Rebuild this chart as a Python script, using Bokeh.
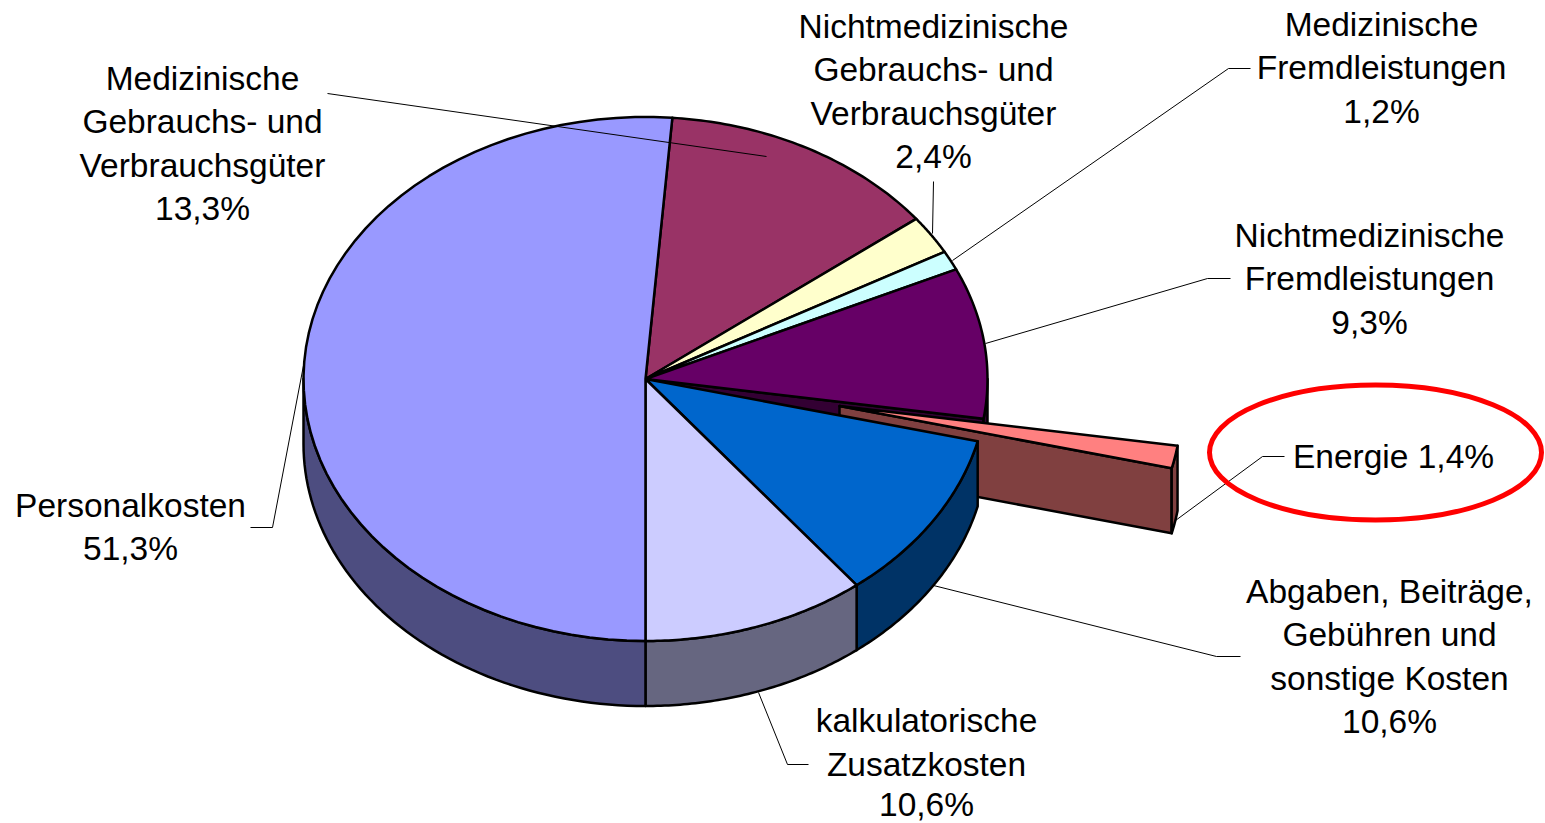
import numpy as np
from bokeh.core.properties import value
from bokeh.embed import file_html
from bokeh.models import Range1d
from bokeh.plotting import figure
from bokeh.resources import INLINE

# ---- data, clockwise from the top
categories = ["Medizinische Gebrauchs- und Verbrauchsgüter",
              "Nichtmedizinische Gebrauchs- und Verbrauchsgüter",
              "Medizinische Fremdleistungen",
              "Nichtmedizinische Fremdleistungen",
              "Energie",
              "Abgaben, Beiträge, Gebühren und sonstige Kosten",
              "kalkulatorische Zusatzkosten",
              "Personalkosten"]
shares = [13.3, 2.4, 1.2, 9.3, 1.4, 10.6, 10.6, 51.3]
top_colors = ["#993366", "#FFFFCC", "#CCFFFF", "#660066", "#FF8080", "#0066CC", "#CCCCFF", "#9999FF"]
side_colors = ["#4D1A33", "#808066", "#668080", "#330033", "#804040", "#003366", "#666680", "#4D4D80"]

label_lines = [["Medizinische", "Gebrauchs- und", "Verbrauchsgüter", "13,3%"],
               ["Nichtmedizinische", "Gebrauchs- und", "Verbrauchsgüter", "2,4%"],
               ["Medizinische", "Fremdleistungen", "1,2%"],
               ["Nichtmedizinische", "Fremdleistungen", "9,3%"],
               ["Energie 1,4%"],
               ["Abgaben, Beiträge,", "Gebühren und", "sonstige Kosten", "10,6%"],
               ["kalkulatorische", "Zusatzkosten", "10,6%"],
               ["Personalkosten", "51,3%"]]
label_x = [202, 933, 1381, 1369, 1393, 1389, 926, 130]
label_y = [[78, 121, 165, 208], [26, 69, 113, 156], [24, 67, 111], [235, 278, 322],
           [456], [591, 634, 678, 721], [720, 764, 803.5], [505, 548]]
leaders = [([327, 766], [93, 156]),
           ([933, 932], [181, 233]),
           ([1250, 1228, 952], [68, 68, 260]),
           ([1230, 1207, 985], [278, 278, 343]),
           ([1284, 1262, 1175], [456, 456, 520]),
           ([1240, 1216, 933], [656, 656, 585]),
           ([808, 787, 758], [764, 764, 692]),
           ([250, 272, 303], [527, 527, 365])]

# ---- layout
W, H = 1545, 823
CX, CY, RX, RY, DEPTH = 645, 378.5, 342, 262, 65
START = 4.5
EXPLODE_DX, EXPLODE_DY = 194, 27


def arc(a, b, cx=CX, cy=CY, n=60):
    t = np.radians(np.linspace(a, b, n))
    return cx + RX * np.sin(t), cy - RY * np.cos(t)


p = figure(width=W, height=H, output_backend="svg", toolbar_location=None,
           x_range=Range1d(0, W), y_range=Range1d(H, 0),
           x_axis_location=None, y_axis_location=None, min_border=0,
           outline_line_color=None, background_fill_color="white", border_fill_color="white")
p.grid.visible = False


def poly(xs, ys, color):
    p.patch(list(xs), list(ys), fill_color=color, line_color="black",
            line_width=2.5, line_join="round")


totals = np.cumsum([0] + shares) / sum(shares) * 360 + START
idx_purple, idx_energy, idx_blue, idx_kalk, idx_pers = 3, 4, 5, 6, 7


def rim(a, b, color, cx=CX, cy=CY):
    x, y = arc(a, b, cx, cy)
    poly(np.r_[x, x[::-1]], np.r_[y, y[::-1] + DEPTH], color)


def top(a, b, color, cx=CX, cy=CY):
    x, y = arc(a, b, cx, cy)
    poly(np.r_[cx, x], np.r_[cy, y], color)


# wall and rim of the slice that is exposed by the pulled-out piece
a, b = totals[idx_purple], totals[idx_purple + 1]
ex, ey = arc(b, b, n=1)
poly([CX, ex[0], ex[0], CX], [CY, ey[0], ey[0] + DEPTH, CY + DEPTH], side_colors[idx_purple])
rim(90, b, side_colors[idx_purple])

# pulled-out piece
a, b = totals[idx_energy], totals[idx_energy + 1]
ax, ay = CX + EXPLODE_DX, CY + EXPLODE_DY
lx, ly = arc(b, b, ax, ay, n=1)
poly([ax, lx[0], lx[0], ax], [ay, ly[0], ly[0] + DEPTH, ay + DEPTH], side_colors[idx_energy])
rim(a, b, side_colors[idx_energy], ax, ay)
top(a, b, top_colors[idx_energy], ax, ay)

# front rims
rim(totals[idx_blue], totals[idx_blue + 1], side_colors[idx_blue])
rim(totals[idx_kalk], totals[idx_kalk + 1], side_colors[idx_kalk])
rim(totals[idx_pers], 270, side_colors[idx_pers])

# tops
for i in range(len(shares)):
    if i != idx_energy:
        top(totals[i], totals[i + 1], top_colors[i])

# leaders
for xs, ys in leaders:
    p.line(xs, ys, line_color="black", line_width=1)

# highlight
p.ellipse([1375], [452], width=[332], height=[135], fill_color=None,
          line_color="#FF0000", line_width=5)

# labels
for lines, x, ys in zip(label_lines, label_x, label_y):
    p.text([x] * len(lines), ys, text=lines, text_font=value("Liberation Sans"),
           text_font_size="33.5px", text_align="center", text_baseline="middle",
           text_color="black")

open("out.html", "w").write(file_html(p, INLINE))
